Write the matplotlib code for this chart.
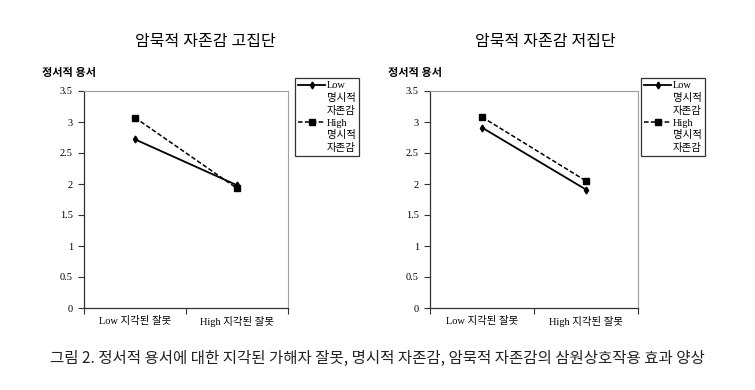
import matplotlib
matplotlib.use('Agg')
import matplotlib.pyplot as plt
from matplotlib.lines import Line2D

plt.rcParams['font.family'] = ['Liberation Serif', 'Noto Sans CJK KR']

categories = ['Low 지각된 잘못', 'High 지각된 잘못']
panel_titles = ['암묵적 자존감 고집단', '암묵적 자존감 저집단']
series_names = ['Low', 'High']
series_suffix = ['명시적', '자존감']

# values: [panel][series]
high_group_low = [2.72, 1.98]
high_group_high = [3.07, 1.93]
low_group_low = [2.91, 1.91]
low_group_high = [3.08, 2.05]

panels = [(high_group_low, high_group_high), (low_group_low, low_group_high)]

yticks = [0, 0.5, 1, 1.5, 2, 2.5, 3, 3.5]
ytick_labels = ['0', '0.5', '1', '1.5', '2', '2.5', '3', '3.5']
ylabel = '정서적 용서'
caption = '그림 2. 정서적 용서에 대한 지각된 가해자 잘못, 명시적 자존감, 암묵적 자존감의 삼원상호작용 효과 양상'

fig = plt.figure(figsize=(7.55, 3.90), dpi=100)

ax_boxes = [(84, 204), (430, 208)]
legend_pos = [(295, 78), (641, 78)]
title_x = [205, 545]

for i, (low, high) in enumerate(panels):
  x0, w = ax_boxes[i]
  ax = fig.add_axes([x0 / 755, 1 - 308 / 390, w / 755, (308 - 91) / 390])
  xs = [1, 2]
  l1, = ax.plot(xs, low, color='black', lw=1.3, marker='d', ms=3.5)
  l2, = ax.plot(xs, high, color='black', lw=1.1, ls=(0, (3, 1.5)), marker='s', ms=4.5)
  ax.set_xlim(0.5, 2.5)
  ax.set_ylim(0, 3.5)
  ax.set_yticks(yticks)
  ax.set_yticklabels(ytick_labels, fontsize=7.5)
  ax.set_xticks([0.5, 1.5, 2.5])
  ax.set_xticklabels([])
  ax.set_xticks(xs, minor=True)
  ax.set_xticklabels(categories, minor=True, fontsize=7.5)
  ax.tick_params(axis='x', which='minor', length=0, pad=6)
  ax.tick_params(axis='x', which='major', length=4, direction='out', color='#333333')
  ax.tick_params(axis='y', length=4, direction='out', pad=4, color='#333333')
  for s in ['top', 'right']:
    ax.spines[s].set_color('#a0a0a0')
    ax.spines[s].set_linewidth(0.8)
  for s in ['left', 'bottom']:
    ax.spines[s].set_color('#333333')
    ax.spines[s].set_linewidth(0.9)

  blank = Line2D([], [], color='none')
  handles = [l1, blank, blank, l2, blank, blank]
  labels = [series_names[0]] + series_suffix + [series_names[1]] + series_suffix
  lx, ly = legend_pos[i]
  leg = ax.legend(handles, labels, loc='upper left',
                  bbox_to_anchor=(lx / 755, 1 - ly / 390),
                  bbox_transform=fig.transFigure, fontsize=7.5, frameon=True,
                  fancybox=False, edgecolor='black', handlelength=2.6,
                  handletextpad=0.15, borderpad=0.3, labelspacing=0.25,
                  borderaxespad=0)
  leg.get_frame().set_linewidth(0.9)

  fig.text(title_x[i] / 755, 1 - 42 / 390, panel_titles[i], ha='center',
           va='center', fontsize=11.5)
  fig.text((x0 - 42) / 755, 1 - 73 / 390, ylabel, ha='left', va='center',
           fontsize=8, fontweight='bold')

fig.text(50 / 755, 1 - 358 / 390, caption, ha='left', va='center', fontsize=11.2,
         family=['Noto Sans CJK KR', 'DejaVu Sans'], color='#222222')

fig.savefig('out.png', dpi=100)
